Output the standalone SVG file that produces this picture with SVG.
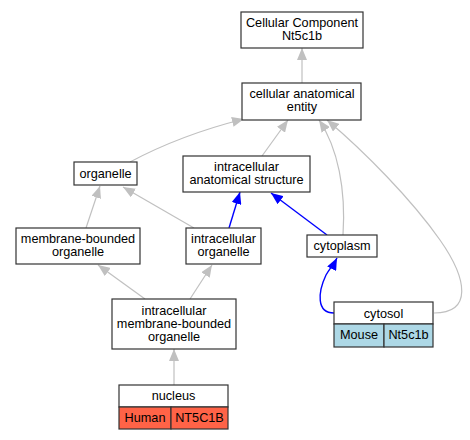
<svg xmlns="http://www.w3.org/2000/svg" width="470" height="440" viewBox="0 0 470 440">
<defs>
<style>
text{font-family:"Liberation Sans",Arial,sans-serif;font-size:12.7px;fill:#000;text-anchor:middle}
.box{fill:#fff;stroke:#333;stroke-width:1.2}
.g{fill:none;stroke:#c0c0c0;stroke-width:1.2}
.b{fill:none;stroke:#0000ff;stroke-width:1.4}
.human{fill:#ff6347;stroke:#333;stroke-width:1.2}
.mouse{fill:#add8e6;stroke:#333;stroke-width:1.2}
</style>
<marker id="ag" viewBox="0 0 12 10" refX="12" refY="5" markerWidth="12" markerHeight="10" markerUnits="userSpaceOnUse" orient="auto"><path d="M0,0L12,5L0,10z" fill="#c0c0c0"/></marker>
<marker id="ab" viewBox="0 0 12 10" refX="12" refY="5" markerWidth="12" markerHeight="10" markerUnits="userSpaceOnUse" orient="auto"><path d="M0,0L12,5L0,10z" fill="#0000ff"/></marker>
</defs>
<rect width="470" height="440" fill="#fff"/>
<g id="edges">
<path class="g" marker-end="url(#ag)" d="M302,83L302,48"/>
<path class="g" marker-end="url(#ag)" d="M130,162C160,146 200,130 244,119"/>
<path class="g" marker-end="url(#ag)" d="M262,156L288,120"/>
<path class="g" marker-end="url(#ag)" d="M343,235C346,190 338,148 319,120"/>
<path class="g" marker-end="url(#ag)" d="M434,313C472,313 468,280 440,240C412,200 365,152 327,120"/>
<path class="g" marker-end="url(#ag)" d="M86,228L100,186"/>
<path class="g" marker-end="url(#ag)" d="M194,228L123,187"/>
<path class="b" marker-end="url(#ab)" d="M229,228L240,192"/>
<path class="b" marker-end="url(#ab)" d="M327,235L271,193"/>
<path class="b" marker-end="url(#ab)" d="M334,313C316,313 318,292 326,275C330,268 334,264 337,258"/>
<path class="g" marker-end="url(#ag)" d="M145,299L98,265"/>
<path class="g" marker-end="url(#ag)" d="M190,299L212,265"/>
<path class="g" marker-end="url(#ag)" d="M174,385L174,349"/>
</g>
<g id="cc"><rect class="box" x="241" y="12" width="122" height="36"/><text x="302" y="27">Cellular Component</text><text x="302" y="40">Nt5c1b</text></g>
<g id="cae"><rect class="box" x="242" y="83" width="119" height="37"/><text x="302" y="98">cellular anatomical</text><text x="302" y="111">entity</text></g>
<g id="organelle"><rect class="box" x="74" y="162" width="63" height="23"/><text x="105.5" y="178">organelle</text></g>
<g id="ias"><rect class="box" x="183" y="156" width="127" height="36"/><text x="246.5" y="171">intracellular</text><text x="246.5" y="184">anatomical structure</text></g>
<g id="mbo"><rect class="box" x="16" y="228" width="124" height="36"/><text x="78" y="243">membrane-bounded</text><text x="78" y="256">organelle</text></g>
<g id="io"><rect class="box" x="186" y="228" width="75" height="36"/><text x="223.5" y="243">intracellular</text><text x="223.5" y="256">organelle</text></g>
<g id="cytoplasm"><rect class="box" x="307" y="235" width="70" height="22"/><text x="342" y="250">cytoplasm</text></g>
<g id="imbo"><rect class="box" x="112" y="299" width="124" height="50"/><text x="174" y="314.5">intracellular</text><text x="174" y="327.5">membrane-bounded</text><text x="174" y="341">organelle</text></g>
<g id="nucleus"><rect class="box" x="119" y="385" width="109" height="22"/><rect class="human" x="119" y="407" width="52" height="22"/><rect class="human" x="171" y="407" width="57" height="22"/><text x="173.5" y="400">nucleus</text><text x="145" y="422">Human</text><text x="199.5" y="422">NT5C1B</text></g>
<g id="cytosol"><rect class="box" x="334" y="302" width="99" height="22"/><rect class="mouse" x="334" y="324" width="50" height="23"/><rect class="mouse" x="384" y="324" width="49" height="23"/><text x="383.5" y="317.5">cytosol</text><text x="359" y="339">Mouse</text><text x="408.5" y="339">Nt5c1b</text></g>
</svg>
